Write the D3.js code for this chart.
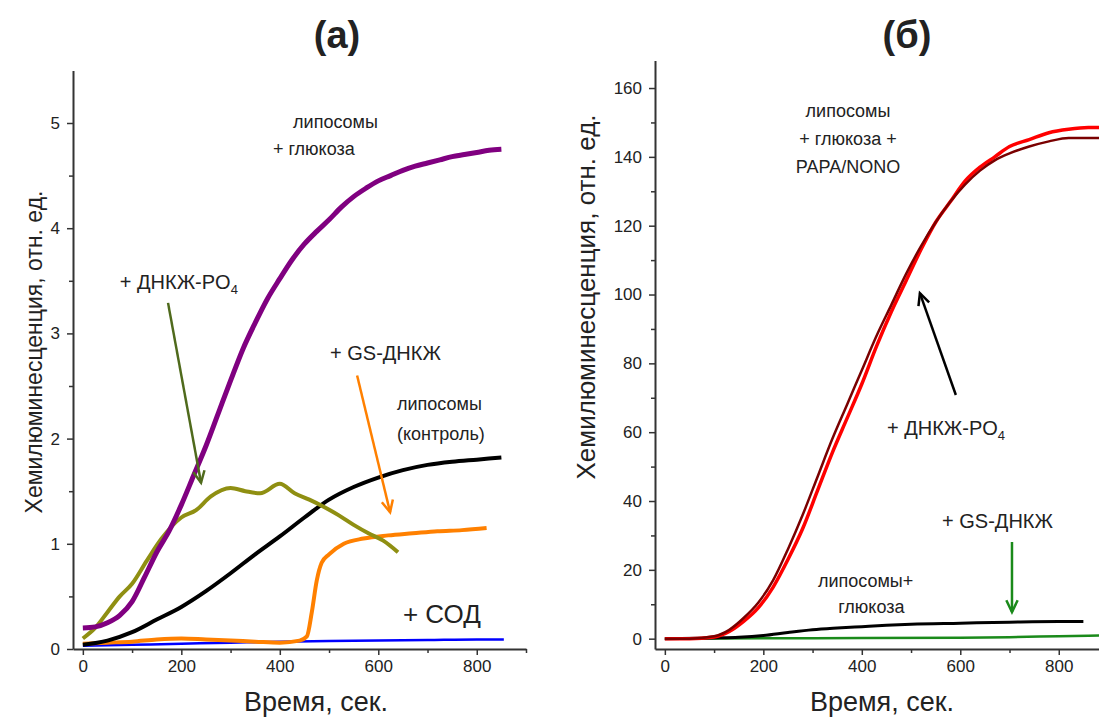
<!DOCTYPE html>
<html>
<head>
<meta charset="utf-8">
<script src="https://cdn.jsdelivr.net/npm/d3@7"></script>
<style>
  body { margin: 0; background: #fff; }
  text { font-family: "Liberation Sans", Arial, sans-serif; fill: #222; }
</style>
</head>
<body>
<script>
// ---------- panel (а): time, s  /  chemiluminescence, rel. units ----------
var tGlucose = [0,25,50,75,100,125,150,175,200,225,250,275,300,325,350,375,400,425,450,475,500,525,550,575,600,625,650,675,700,725,750,775,800,825,850];
var vGlucose = [0.2,0.21,0.25,0.32,0.45,0.68,0.92,1.12,1.37,1.65,1.93,2.24,2.55,2.85,3.1,3.33,3.52,3.7,3.85,3.97,4.08,4.2,4.3,4.38,4.45,4.5,4.55,4.59,4.62,4.65,4.68,4.7,4.72,4.74,4.75];

var tDnicPO4 = [0,25,50,75,100,130,160,200,230,260,300,330,360,400,430,460,490,520,550,580,610,640];
var vDnicPO4 = [0.1,0.2,0.35,0.5,0.62,0.84,1.05,1.25,1.32,1.45,1.53,1.5,1.48,1.57,1.48,1.42,1.35,1.27,1.18,1.1,1.03,0.92];

var tControl = [0,50,100,150,200,250,300,350,400,450,500,550,600,650,700,750,800,850];
var vControl = [0.04,0.08,0.16,0.28,0.4,0.55,0.72,0.9,1.07,1.25,1.42,1.54,1.63,1.7,1.75,1.78,1.8,1.82];

var tGsDnic = [0,50,100,150,200,250,300,350,400,440,455,465,475,485,500,530,570,620,670,720,770,820];
var vGsDnic = [0.05,0.06,0.07,0.09,0.1,0.09,0.08,0.07,0.06,0.08,0.12,0.35,0.65,0.82,0.9,1.0,1.05,1.08,1.1,1.12,1.13,1.15];

var tSod = [0,100,200,300,400,500,600,700,800,855];
var vSod = [0.03,0.04,0.05,0.06,0.07,0.075,0.08,0.085,0.09,0.09];

// ---------- panel (б) ----------
var tNono = [0,50,100,130,160,190,220,250,280,310,340,370,400,430,460,490,520,550,580,610,640,670,700,740,780,820,860,885];
var vNono = [0,0,0.5,2,5,9,15,23,32,43,54,64,74,85,95,104,113,121,127,133,137,140,143,145,147,148,148.5,148.5];
var vNonoDnic = [0,0,0.7,2.5,6,10.5,17,26,36,47,58,68,78,88,97,106,114,121,127,132,136,139,141,143,144.5,145.5,145.5,145.5];

var tGlucoseB = [0,100,150,200,250,300,350,400,450,500,600,700,800,850];
var vGlucoseB = [0,0.2,0.4,0.9,1.8,2.6,3.1,3.5,3.9,4.2,4.5,4.8,5.0,5.0];

var tGsDnicB = [0,200,400,600,700,800,885];
var vGsDnicB = [0,0.1,0.2,0.3,0.45,0.7,0.9];

// ticks
var xMajor = [0,200,400,600,800];
var xMinor = [100,300,500,700,900];
var yMajorA = [0,1,2,3,4,5];
var yMinorA = [0.5,1.5,2.5,3.5,4.5];
var yMajorB = [0,20,40,60,80,100,120,140,160];
var yMinorB = [10,30,50,70,90,110,130,150];

var xTitle = "Время, сек.";
var yTitle = "Хемилюминесценция, отн. ед.";

var svg = d3.select("body").append("svg")
    .attr("width", 1099)
    .attr("height", 718);

var axisColor = "#333";

function zip(t, v) { return t.map(function(d, i){ return [d, v[i]]; }); }

function drawPanel(p) {
    var x = d3.scaleLinear().domain([-20, 900]).range(p.xRange);
    var y = d3.scaleLinear().domain(p.yDomain).range([649, p.yTop]);

    var g = svg.append("g");

    // clip so curves stop at the picture edge
    var clipId = "clip" + p.id;
    g.append("clipPath").attr("id", clipId)
      .append("rect")
        .attr("x", p.xRange[0]).attr("y", p.yTop - 5)
        .attr("width", Math.min(p.xRange[1], 1099) - p.xRange[0])
        .attr("height", 649 - p.yTop + 10);

    // axes
    var fmt = d3.format("~g");
    var xAxis = d3.axisBottom(x).tickValues(xMajor).tickSize(6).tickSizeOuter(0).tickPadding(5).tickFormat(fmt);
    var xAxisMinor = d3.axisBottom(x).tickValues(xMinor).tickSize(4).tickFormat("");
    var yAxis = d3.axisLeft(y).tickValues(p.yMajor).tickSize(6).tickSizeOuter(0).tickPadding(7).tickFormat(fmt);
    var yAxisMinor = d3.axisLeft(y).tickValues(p.yMinor).tickSize(4).tickFormat("");

    g.append("g").attr("transform", "translate(0,649)").call(xAxis);
    g.append("g").attr("transform", "translate(0,649)").call(xAxisMinor).select(".domain").remove();
    g.append("g").attr("transform", "translate(" + p.xRange[0] + ",0)").call(yAxis);
    g.append("g").attr("transform", "translate(" + p.xRange[0] + ",0)").call(yAxisMinor).select(".domain").remove();

    g.selectAll(".domain").attr("stroke", axisColor).attr("stroke-width", 2);
    g.selectAll(".tick line").attr("stroke", axisColor).attr("stroke-width", 1.5);
    g.selectAll(".tick text")
        .style("font-family", "'Liberation Sans', Arial, sans-serif")
        .style("font-size", "17px").attr("fill", "#333");

    // axis titles
    g.append("text")
        .attr("x", p.xTitleX).attr("y", 711)
        .attr("text-anchor", "middle")
        .style("font-size", "27px")
        .text(xTitle);
    g.append("text")
        .attr("transform", "translate(" + p.yTitleX + "," + p.yTitleY + ") rotate(-90)")
        .attr("text-anchor", "middle")
        .style("font-size", p.yTitleSize + "px")
        .text(yTitle);

    // panel title
    g.append("text")
        .attr("x", p.titleX).attr("y", 48)
        .attr("text-anchor", "middle")
        .style("font-size", "38px").style("font-weight", "bold")
        .attr("fill", "#000")
        .text(p.title);

    // curves
    var line = d3.line()
        .x(function(d){ return x(d[0]); })
        .y(function(d){ return y(d[1]); })
        .curve(d3.curveMonotoneX);

    g.append("g").attr("clip-path", "url(#" + clipId + ")")
      .selectAll("path")
      .data(p.series)
      .enter().append("path")
        .attr("d", function(d){ return line(zip(d.t, d.v)); })
        .attr("fill", "none")
        .attr("stroke", function(d){ return d.color; })
        .attr("stroke-width", function(d){ return d.w; })
        .attr("stroke-linejoin", "round");

    // arrows
    p.arrows.forEach(function(a){
        var x1 = x(a.from[0]), y1 = y(a.from[1]), x2 = x(a.to[0]), y2 = y(a.to[1]);
        var ang = Math.atan2(y2 - y1, x2 - x1);
        var L = 13, spread = 0.45;
        g.append("line")
            .attr("x1", x1).attr("y1", y1).attr("x2", x2).attr("y2", y2)
            .attr("stroke", a.color).attr("stroke-width", 2.5);
        g.append("path")
            .attr("d", "M" + (x2 - L * Math.cos(ang - spread)) + "," + (y2 - L * Math.sin(ang - spread)) +
                       "L" + x2 + "," + y2 +
                       "L" + (x2 - L * Math.cos(ang + spread)) + "," + (y2 - L * Math.sin(ang + spread)))
            .attr("fill", "none").attr("stroke", a.color).attr("stroke-width", 2.5)
            .attr("stroke-linejoin", "miter");
    });

    // labels
    p.labels.forEach(function(l){
        var t = g.append("text")
            .attr("x", x(l.at[0])).attr("y", y(l.at[1]))
            .attr("text-anchor", l.anchor || "start")
            .style("font-size", l.size + "px");
        t.append("tspan").text(l.text);
        if (l.sub) {
            t.append("tspan").attr("dy", 5).style("font-size", (l.size * 0.65) + "px").text(l.sub);
        }
    });
}

drawPanel({
    id: "a", title: "(а)", titleX: 337,
    xRange: [73, 526], yDomain: [0, 5.5], yTop: 70.4,
    yMajor: yMajorA, yMinor: yMinorA,
    xTitleX: 316, yTitleX: 42, yTitleY: 352, yTitleSize: 23,
    series: [
        { t: tSod, v: vSod, color: "#0000ff", w: 2.5 },
        { t: tGsDnic, v: vGsDnic, color: "#ff8000", w: 4 },
        { t: tControl, v: vControl, color: "#000000", w: 4 },
        { t: tDnicPO4, v: vDnicPO4, color: "#8f8f12", w: 4 },
        { t: tGlucose, v: vGlucose, color: "#800080", w: 5 }
    ],
    arrows: [
        { from: [173, 3.29], to: [240, 1.58], color: "#4f6a1c" },
        { from: [557, 2.60], to: [624, 1.30], color: "#ff8000" }
    ],
    labels: [
        { at: [427, 4.95], text: "липосомы", size: 18 },
        { at: [386, 4.70], text: "+ глюкоза", size: 18 },
        { at: [75, 3.42], text: "+ ДНКЖ-PO", sub: "4", size: 20 },
        { at: [502, 2.75], text: "+ GS-ДНКЖ", size: 20 },
        { at: [638, 2.27], text: "липосомы", size: 18 },
        { at: [638, 1.99], text: "(контроль)", size: 18 },
        { at: [650, 0.25], text: "+ СОД", size: 26 }
    ]
});

drawPanel({
    id: "b", title: "(б)", titleX: 907,
    xRange: [655, 1108], yDomain: [-3, 168], yTop: 60.5,
    yMajor: yMajorB, yMinor: yMinorB,
    xTitleX: 882, yTitleX: 595, yTitleY: 297, yTitleSize: 26,
    series: [
        { t: tGsDnicB, v: vGsDnicB, color: "#1a8a1a", w: 2.5 },
        { t: tGlucoseB, v: vGlucoseB, color: "#000000", w: 3 },
        { t: tNono, v: vNono, color: "#ff0000", w: 3.5 },
        { t: tNono, v: vNonoDnic, color: "#7a0000", w: 2.5 }
    ],
    arrows: [
        { from: [591, 70.8], to: [518, 100.4], color: "#000000" },
        { from: [705, 28.1], to: [705, 7.75], color: "#1a8a1a" }
    ],
    labels: [
        { at: [372, 151.6], text: "липосомы", size: 18, anchor: "middle" },
        { at: [372, 143.4], text: "+ глюкоза +", size: 18, anchor: "middle" },
        { at: [372, 135.3], text: "PAPA/NONO", size: 18, anchor: "middle" },
        { at: [451, 59.2], text: "+ ДНКЖ-PO", sub: "4", size: 20 },
        { at: [563, 32.2], text: "+ GS-ДНКЖ", size: 20 },
        { at: [311, 15], text: "липосомы+", size: 18 },
        { at: [352, 7.5], text: "глюкоза", size: 18 }
    ]
});
</script>
</body>
</html>
